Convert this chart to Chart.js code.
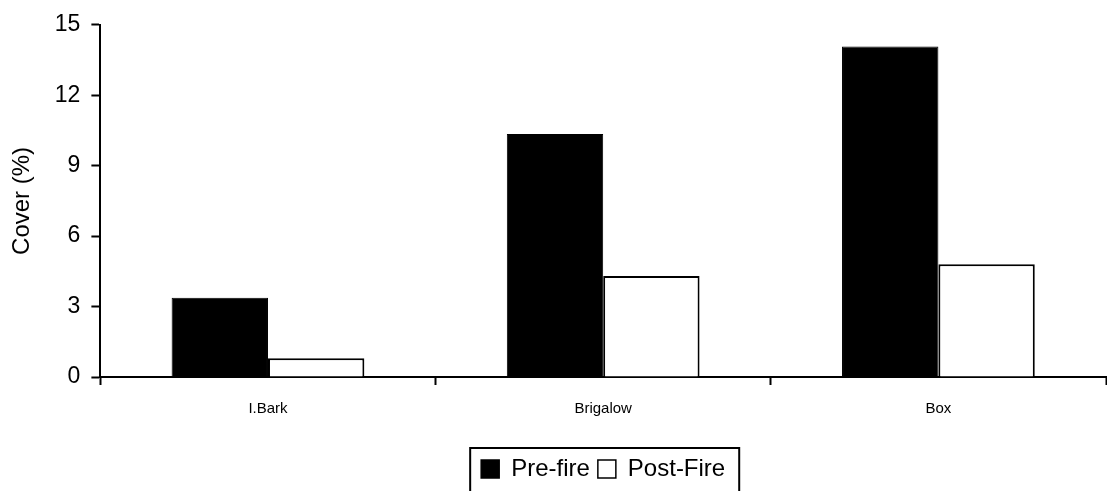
<!DOCTYPE html>
<html>
<head>
<meta charset="utf-8">
<script src="https://cdn.jsdelivr.net/npm/chart.js@4/dist/chart.umd.min.js"></script>
<style>
  html, body { margin: 0; padding: 0; background: #fff; }
  #wrap { width: 1107px; height: 491px; }
</style>
</head>
<body>
<div id="wrap"><canvas id="grafico"></canvas></div>
<script>
const categorias = ['I.Bark', 'Brigalow', 'Box']
const preFire = [3.38, 10.35, 14.08]
const postFire = [0.8, 4.3, 4.8]
const ticksY = [0, 3, 6, 9, 12, 15]

// centraliza a legenda sobre a area do grafico
const legendaCentro = {
    id: 'legendaCentro',
    afterLayout(chart) {
        const leg = chart.legend
        const d = (chart.chartArea.left + chart.chartArea.right) / 2 - (leg.left + leg.right) / 2
        leg.left += d
        leg.right += d
    }
}

// desenha a moldura da legenda em volta dos itens
const legendaBorda = {
    id: 'legendaBorda',
    afterDraw(chart) {
        const caixas = chart.legend.legendHitBoxes
        if (!caixas || !caixas.length) return
        const ctx = chart.ctx
        const ultima = caixas[caixas.length - 1]
        const esq = caixas[0].left - 11
        const dir = ultima.left + ultima.width + 14
        const topo = caixas[0].top - 9
        ctx.save()
        ctx.strokeStyle = '#000'
        ctx.lineWidth = 2
        ctx.strokeRect(esq, topo, dir - esq, 80)
        ctx.restore()
    }
}

Chart.defaults.font.family = '"Liberation Sans", Arial, sans-serif'
Chart.defaults.color = '#000'

new Chart(document.getElementById('grafico'), {
    type: 'bar',
    data: {
        labels: categorias,
        datasets: [{
            label: 'Pre-fire',
            data: preFire,
            backgroundColor: '#000',
            borderColor: '#000',
            borderWidth: 1,
            categoryPercentage: 0.575,
            barPercentage: 1
        }, {
            label: 'Post-Fire',
            data: postFire,
            backgroundColor: '#fff',
            borderColor: '#000',
            borderWidth: 2,
            categoryPercentage: 0.575,
            barPercentage: 1
        }]
    },
    options: {
        responsive: true,
        maintainAspectRatio: false,
        animation: { duration: 0 },
        layout: {
            padding: { left: 4, right: 1, top: 17, bottom: 0 }
        },
        plugins: {
            tooltip: { enabled: false },
            legend: {
                position: 'bottom',
                labels: {
                    boxWidth: 18,
                    boxHeight: 18,
                    font: { size: 24 },
                    padding: 8,
                    generateLabels(chart) {
                        return chart.data.datasets.map((ds, i) => ({
                            text: ds.label,
                            fillStyle: ds.backgroundColor,
                            strokeStyle: '#000',
                            lineWidth: 1.5,
                            datasetIndex: i
                        }))
                    }
                }
            }
        },
        scales: {
            x: {
                offset: true,
                grid: {
                    offset: true,
                    drawOnChartArea: false,
                    drawTicks: true,
                    tickLength: 8,
                    tickWidth: 2,
                    tickColor: '#000'
                },
                border: { color: '#000', width: 2 },
                ticks: {
                    font: { size: 15 },
                    padding: 15
                },
                afterFit(axis) {
                    axis.height = 72
                }
            },
            y: {
                min: 0,
                max: 15,
                afterBuildTicks(axis) {
                    axis.ticks = ticksY.map(v => ({ value: v }))
                },
                grid: {
                    drawOnChartArea: false,
                    tickLength: 9,
                    tickWidth: 2,
                    tickColor: '#000'
                },
                border: { color: '#000', width: 2 },
                ticks: {
                    font: { size: 23 },
                    padding: 11
                },
                title: {
                    display: true,
                    text: 'Cover (%)',
                    font: { size: 24 },
                    padding: { top: 4, bottom: 7 }
                }
            }
        }
    },
    plugins: [legendaCentro, legendaBorda]
})
</script>
</body>
</html>
